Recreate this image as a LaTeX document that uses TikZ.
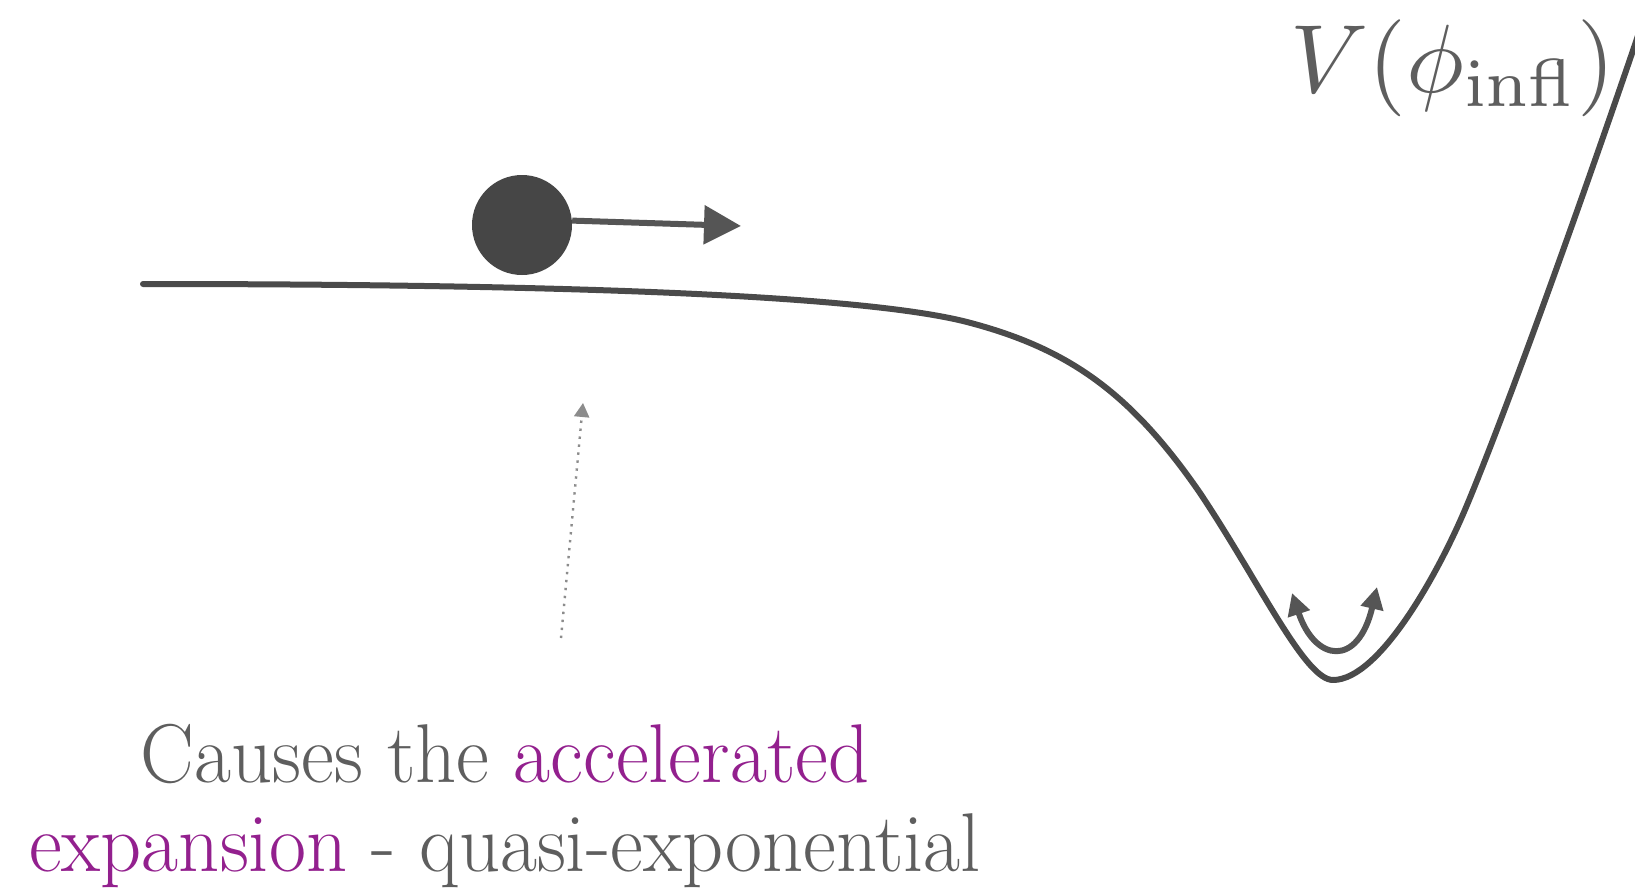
\documentclass[tikz,border=0pt]{standalone}
\usetikzlibrary{arrows.meta}
\definecolor{curvegray}{HTML}{4A4A4A}
\definecolor{ballgray}{HTML}{464646}
\definecolor{arrowgray}{HTML}{555555}
\definecolor{dotgray}{HTML}{8C8C8C}
\definecolor{textgray}{HTML}{5E5E5E}
\definecolor{purp}{HTML}{93208E}
\begin{document}
\begin{tikzpicture}[x=0.5pt,y=-0.5pt,
  potential/.style={draw=curvegray,line width=3pt,line cap=round,line join=round},
  ballstyle/.style={circle,fill=ballgray,draw=none,minimum size=50pt,inner sep=0pt},
  pusharrow/.style={draw=arrowgray,line width=3pt,-{Triangle[length=18.5pt,width=19pt]}},
  dotarrow/.style={draw=dotgray,line width=1.2pt,dash pattern=on 1.2pt off 2.8pt,-{Triangle[length=7pt,width=7.5pt]}},
  wellarrow/.style={draw=arrowgray,line width=3pt,{Triangle[length=11pt,width=11pt]}-{Triangle[length=11pt,width=11pt]}},
  caption/.style={inner sep=0pt,anchor=base,text=textgray,font=\fontsize{41.7}{44.5}\selectfont},
  vlabel/.style={inner sep=0pt,anchor=base west,text=textgray,font=\fontsize{10}{12}\selectfont}
]
\useasboundingbox (0,0) rectangle (1635,889);
\fill[white] (0,0) rectangle (1635,889);

% potential curve
\coordinate (pA) at (143,284);
\coordinate (pB) at (967,322);
\coordinate (pC) at (1200,493);
\coordinate (pD) at (1333,680);
\coordinate (pE) at (1467,505);
\coordinate (pF) at (1650,0);
\draw[potential] (pA) .. controls (500,284) and (850,292) .. (pB)
  .. controls (1067,348) and (1130,391.5) .. (pC)
  .. controls (1260,583) and (1305,680) .. (pD)
  .. controls (1380,680) and (1440,570) .. (pE)
  .. controls (1517,385) and (1610,120) .. (pF);

% ball and push arrow
\node[ballstyle] (ball) at (522,225) {};
\coordinate (pushtip) at (741,226);
\draw[pusharrow] (ball.5) -- (pushtip);

% dotted arrow
\coordinate (dotS) at (561,638);
\coordinate (dotE) at (583,403);
\draw[dotarrow] (dotS) -- (dotE);

% oscillation arrows in the well
\coordinate (wl) at (1292,593);
\coordinate (wr) at (1377,587);
\draw[wellarrow] (wl) .. controls (1315,662) and (1358,668) .. (wr);

% label
\node[vlabel] (vphi) at (1290,92) {\scalebox{4.85}{$V(\phi_{\mathrm{infl}})$}};

% caption
\node[caption] (cap1) at (505,782) {\scalebox{0.965}[1]{Causes the \textcolor{purp}{accelerated}}};
\node[caption] (cap2) at (505,871) {\scalebox{0.965}[1]{\textcolor{purp}{expansion} - quasi-exponential}};
\end{tikzpicture}
\end{document}
